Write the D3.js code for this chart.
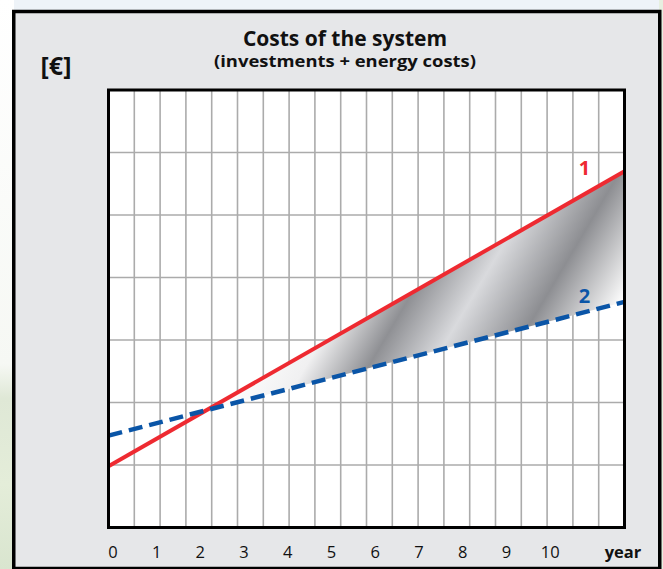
<!DOCTYPE html>
<html>
<head>
<meta charset="utf-8">
<script src="https://cdn.jsdelivr.net/npm/d3@7/dist/d3.min.js"></script>
<style>
  html, body { margin: 0; padding: 0; background: #ffffff; }
  svg { display: block; }
  text { font-family: "Open Sans", "Noto Sans", sans-serif; }
</style>
</head>
<body>
<div id="chart"></div>
<script>
// ---- data ----
var years = [-0.1, 11.7];           // first and last year shown in the plot
var costSystem1 = [0.98, 5.7];      // line 1 (red)
var costSystem2 = [1.47, 3.61];     // line 2 (blue, dashed)
var yearTicks = [0, 1, 2, 3, 4, 5, 6, 7, 8, 9, 10];
var seriesNames = ['1', '2'];

var width = 663, height = 569;

var svg = d3.select('#chart').append('svg')
    .attr('width', width)
    .attr('height', height);

var defs = svg.append('defs');

// blurry photo behind the card, left side
var bg = defs.append('linearGradient').attr('id', 'bgLeft')
    .attr('x1', 0).attr('y1', 0).attr('x2', 0).attr('y2', 1);
bg.append('stop').attr('offset', 0).attr('stop-color', '#ffffff');
bg.append('stop').attr('offset', 0.64).attr('stop-color', '#f6f8f4');
bg.append('stop').attr('offset', 0.7).attr('stop-color', '#dfe8d6');
bg.append('stop').attr('offset', 0.85).attr('stop-color', '#e4edd9');
bg.append('stop').attr('offset', 1).attr('stop-color', '#d9e5cf');

svg.append('rect').attr('x', 0).attr('y', 0).attr('width', width).attr('height', height)
    .attr('fill', '#eef3f8');
svg.append('rect').attr('x', 0).attr('y', 0).attr('width', 14).attr('height', height)
    .attr('fill', 'url(#bgLeft)');
svg.append('rect').attr('x', 659).attr('y', 0).attr('width', 4).attr('height', height)
    .attr('fill', '#e6efe0');

// card frame
svg.append('rect')
    .attr('x', 13.75).attr('y', 11.5)
    .attr('width', 646).attr('height', 557)
    .attr('fill', '#e6e7e9')
    .attr('stroke', '#000')
    .attr('stroke-width', 3.5);

// ---- plot ----
var plot = { left: 108.5, top: 90, right: 624.5, bottom: 527.5 };

var x = d3.scaleLinear().domain([years[0], years[1]]).range([plot.left, plot.right]);
var y = d3.scaleLinear().domain([0, 7]).range([plot.bottom, plot.top]);
var col = d3.scaleLinear().domain([0, 20]).range([plot.left, plot.right]);

svg.append('rect')
    .attr('x', plot.left).attr('y', plot.top)
    .attr('width', plot.right - plot.left).attr('height', plot.bottom - plot.top)
    .attr('fill', '#fff');

var grid = svg.append('g').attr('stroke', '#ababab').attr('stroke-width', 1.6);
grid.selectAll('line.v').data(d3.range(1, 20)).enter().append('line')
    .attr('class', 'v')
    .attr('x1', function (d) { return col(d); }).attr('x2', function (d) { return col(d); })
    .attr('y1', plot.top).attr('y2', plot.bottom);
grid.selectAll('line.h').data(d3.range(1, 7)).enter().append('line')
    .attr('class', 'h')
    .attr('x1', plot.left).attr('x2', plot.right)
    .attr('y1', function (d) { return y(d); }).attr('y2', function (d) { return y(d); });

// shaded difference between the two systems (after they cross)
var s1 = (costSystem1[1] - costSystem1[0]) / (years[1] - years[0]);
var s2 = (costSystem2[1] - costSystem2[0]) / (years[1] - years[0]);
var crossYear = years[0] + (costSystem2[0] - costSystem1[0]) / (s1 - s2);
var crossCost = costSystem1[0] + s1 * (crossYear - years[0]);

var shade = defs.append('linearGradient').attr('id', 'metal')
    .attr('gradientUnits', 'userSpaceOnUse')
    .attr('x1', 335.4).attr('y1', 198.9).attr('x2', 593.4).attr('y2', 351.9);
[[0, '#ffffff'], [0.2, '#f0f0f1'], [0.38, '#8f9094'], [0.56, '#d9dadd'],
 [0.77, '#8d8e92'], [1, '#ffffff']].forEach(function (s) {
    shade.append('stop').attr('offset', s[0]).attr('stop-color', s[1]);
});

var areaData = [
    { year: crossYear, top: crossCost, bottom: crossCost },
    { year: years[1], top: costSystem1[1], bottom: costSystem2[1] }
];
svg.append('path')
    .datum(areaData)
    .attr('fill', 'url(#metal)')
    .attr('d', d3.area()
        .x(function (d) { return x(d.year); })
        .y0(function (d) { return y(d.bottom); })
        .y1(function (d) { return y(d.top); }));

var line = d3.line()
    .x(function (d) { return x(d[0]); })
    .y(function (d) { return y(d[1]); });

svg.append('path')
    .datum(d3.zip(years, costSystem1))
    .attr('fill', 'none')
    .attr('stroke', '#ee2a31')
    .attr('stroke-width', 4)
    .attr('d', line);

svg.append('path')
    .datum(d3.zip(years, costSystem2))
    .attr('fill', 'none')
    .attr('stroke', '#0a55a7')
    .attr('stroke-width', 4.5)
    .attr('stroke-dasharray', '14,7')
    .attr('d', line);

// plot border
svg.append('rect')
    .attr('x', plot.left).attr('y', plot.top)
    .attr('width', plot.right - plot.left).attr('height', plot.bottom - plot.top)
    .attr('fill', 'none')
    .attr('stroke', '#000')
    .attr('stroke-width', 3);

// series labels
svg.append('text')
    .attr('x', x(years[1]) - 40).attr('y', y(costSystem1[1]) + 4)
    .attr('text-anchor', 'middle')
    .attr('font-size', 20).attr('font-weight', 'bold')
    .attr('fill', '#ee2a31')
    .text(seriesNames[0]);
svg.append('text')
    .attr('x', x(years[1]) - 40).attr('y', y(costSystem2[1]) + 1)
    .attr('text-anchor', 'middle')
    .attr('font-size', 20).attr('font-weight', 'bold')
    .attr('fill', '#0a55a7')
    .text(seriesNames[1]);

// x axis labels
svg.append('g').selectAll('text').data(yearTicks).enter().append('text')
    .attr('x', function (d) { return x(d); })
    .attr('y', 558)
    .attr('text-anchor', 'middle')
    .attr('font-size', 16.5)
    .attr('fill', '#111')
    .text(function (d) { return d; });
svg.append('text')
    .attr('x', 623).attr('y', 558)
    .attr('text-anchor', 'middle')
    .attr('font-size', 16.5).attr('font-weight', 'bold')
    .attr('fill', '#111')
    .text('year');

// titles
svg.append('text')
    .attr('x', 345).attr('y', 46)
    .attr('text-anchor', 'middle')
    .attr('font-size', 21).attr('font-weight', 'bold')
    .attr('fill', '#111')
    .text('Costs of the system');
svg.append('text')
    .attr('x', 345).attr('y', 67)
    .attr('text-anchor', 'middle')
    .attr('font-size', 16).attr('font-weight', 'bold')
    .attr('textLength', 262)
    .attr('lengthAdjust', 'spacingAndGlyphs')
    .attr('fill', '#111')
    .text('(investments + energy costs)');
svg.append('text')
    .attr('x', 56).attr('y', 75)
    .attr('text-anchor', 'middle')
    .attr('font-size', 25).attr('font-weight', 'bold')
    .attr('fill', '#111')
    .text('[€]');
</script>
</body>
</html>
